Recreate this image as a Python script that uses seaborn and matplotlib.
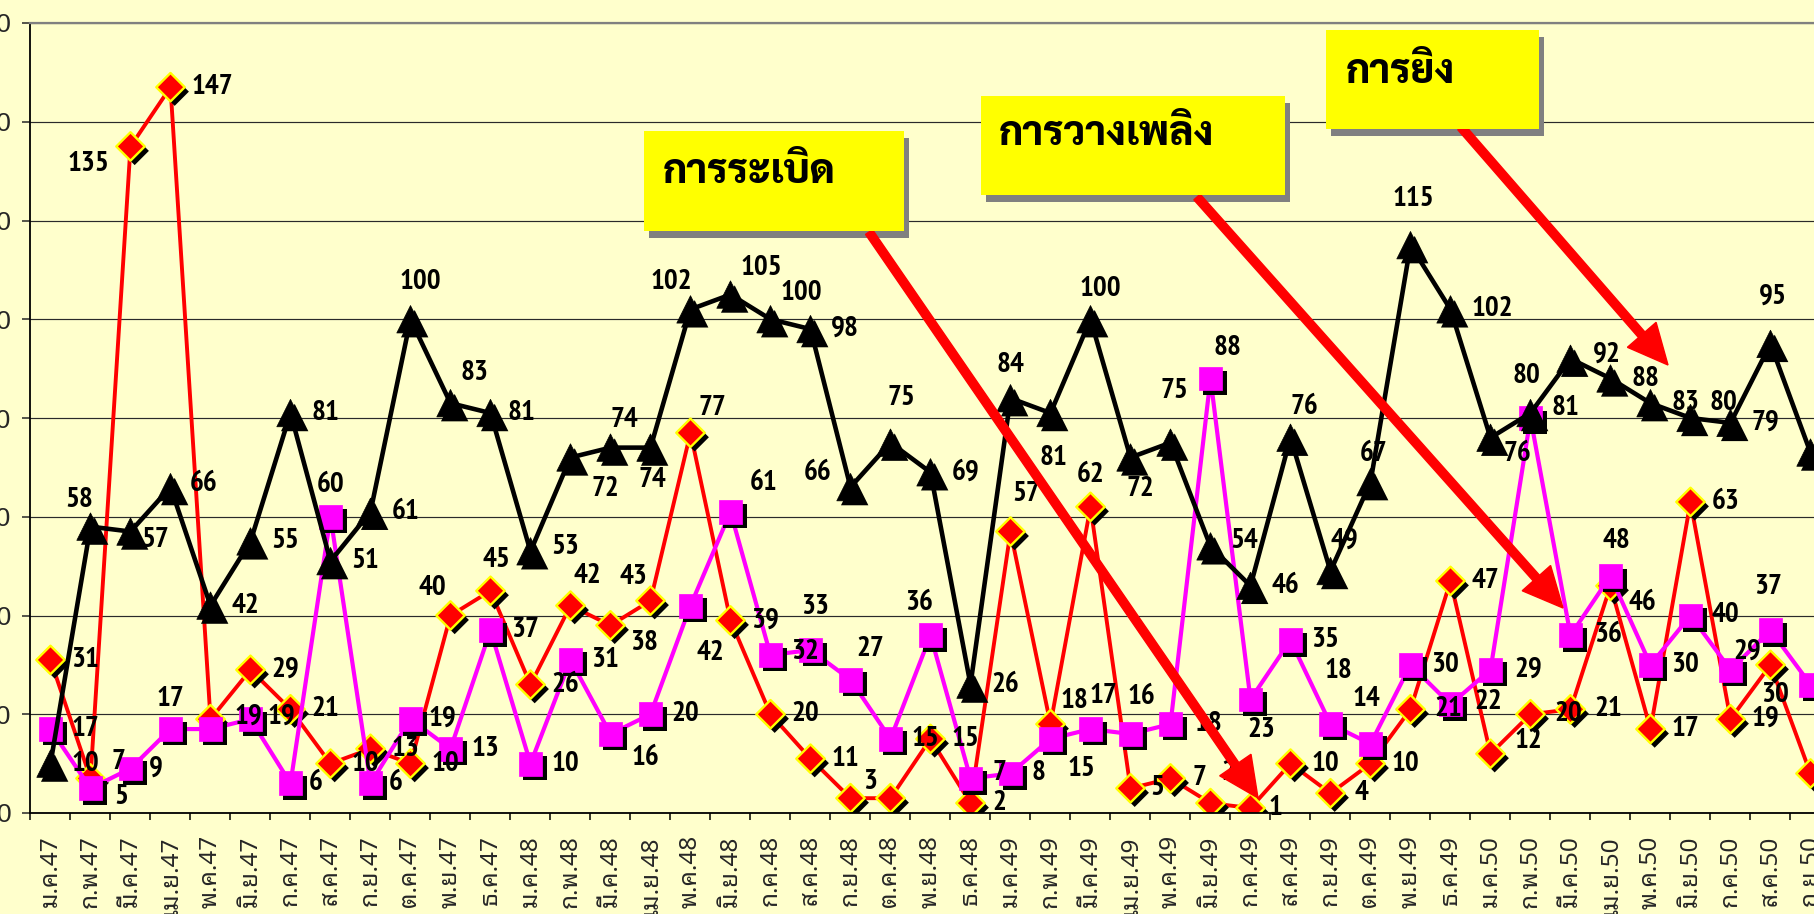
import matplotlib
matplotlib.use("Agg")
import matplotlib.pyplot as plt
import matplotlib.patheffects as pe
from matplotlib import font_manager as fm
from matplotlib.patches import Rectangle, FancyArrow
from matplotlib.transforms import IdentityTransform
from matplotlib.ticker import FixedLocator, MultipleLocator
import pandas as pd
import seaborn as sns

# ---- data: monthly incident counts, Jan 2547 - Sep 2550 ----
months = ["ม.ค.", "ก.พ.", "มี.ค.", "เม.ย.", "พ.ค.", "มิ.ย.",
          "ก.ค.", "ส.ค.", "ก.ย.", "ต.ค.", "พ.ย.", "ธ.ค."]
years = ["47", "48", "49", "50"]
month_labels = [m + y for y in years for m in months][:45]

shooting = [10, 58, 57, 66, 42, 55, 81, 51, 61, 100, 83, 81, 53, 72, 74, 74,
            102, 105, 100, 98, 66, 75, 69, 26, 84, 81, 100, 72, 75, 54, 46, 76,
            49, 67, 115, 102, 76, 81, 92, 88, 83, 80, 79, 95, 73]
arson = [17, 5, 9, 17, 17, 19, 6, 60, 6, 19, 13, 37, 10, 31, 16, 20,
         42, 61, 32, 33, 27, 15, 36, 7, 8, 15, 17, 16, 18, 88, 23, 35,
         18, 14, 30, 22, 29, 80, 36, 48, 30, 40, 29, 37, 26]
bombing = [31, 7, 135, 147, 19, 29, 21, 10, 13, 10, 40, 45, 26, 42, 38, 43,
           77, 39, 20, 11, 3, 3, 15, 2, 57, 18, 62, 5, 7, 2, 1, 10,
           4, 10, 21, 47, 12, 20, 21, 46, 17, 63, 19, 30, 8]

series_names = ["การยิง", "การวางเพลิง", "การระเบิด"]

# ---- fonts ----
installed = {f.name for f in fm.fontManager.ttflist}


def first_available(*cands):
    return next((c for c in cands if c in installed), "DejaVu Sans")


NUM_FONT = first_available("Liberation Sans Narrow", "Arial Narrow", "PT Sans Narrow",
                           "Roboto Condensed", "IBM Plex Sans Condensed",
                           "Fira Sans Condensed", "Barlow Semi Condensed")
THAI_FONT = first_available("Noto Sans Thai Looped", "Sarabun", "Noto Sans Thai")
THAI_BOLD = first_available("Sarabun", "Noto Sans Thai", "Noto Sans Thai Looped")
PLAIN_FONT = first_available("Liberation Sans", "Arimo", "DejaVu Sans")

BG = "#FFFFCC"
sns.set_style("ticks")
plt.rcParams["font.family"] = [NUM_FONT, "DejaVu Sans"]

df = pd.DataFrame({"idx": range(len(month_labels)),
                   series_names[0]: shooting,
                   series_names[1]: arson,
                   series_names[2]: bombing})

W, H = 1814, 914
fig = plt.figure(figsize=(W / 100, H / 100), dpi=100, facecolor=BG)
# 40 px per month, y axis at x=30.5 px, value 0 at y=813 px, 160 at y=23 px
ax = fig.add_axes([30.5 / W, 101 / H, 46 * 40 / W, 790 / H])
ax.set_facecolor(BG)

# ---- series: line + markers with drop shadow ----
shadow = [pe.SimplePatchShadow(offset=(3.0, -3.2), shadow_rgbFace="black", alpha=1.0), pe.Normal()]

style = {
    "การระเบิด": dict(color="#FF0000", lw=2.8, marker="D", s=210, edge="#FFFF00", elw=1.7, z=2.0),
    "การวางเพลิง": dict(color="#FF00FF", lw=3.0, marker="s", s=295, edge="#FF00FF", elw=0.5, z=2.2),
    "การยิง": dict(color="#000000", lw=3.3, marker="^", s=390, edge="#000000", elw=0.5, z=2.4),
}
for name in ["การระเบิด", "การวางเพลิง", "การยิง"]:
    st = style[name]
    sns.lineplot(data=df, x="idx", y=name, color=st["color"], linewidth=st["lw"],
                 ax=ax, zorder=st["z"], estimator=None)
    sns.scatterplot(data=df, x="idx", y=name, color=st["color"], marker=st["marker"],
                    s=st["s"], edgecolor=st["edge"], linewidth=st["elw"], ax=ax,
                    zorder=st["z"] + 0.05, legend=False, path_effects=shadow)

# ---- value labels: (dx, dy) offsets in points, default to the right ----
default_off = (25, 0)
label_offsets = {
    "การยิง": {1: (-8, 19), 2: (18, -6), 3: (24, 2), 9: (7, 27), 10: (17, 22), 11: (22, 0),
               12: (25, 3), 13: (25, -23), 14: (10, 20), 15: (1, -23), 16: (-14, 20),
               17: (22, 19), 18: (22, 19), 20: (-24, 10), 21: (8, 32), 24: (0, 24),
               25: (2, -32), 26: (7, 22), 27: (7, -23), 28: (3, 37), 29: (24, 4),
               31: (10, 22), 32: (10, 22), 33: (2, 20), 34: (2, 33), 35: (30, 0),
               36: (19, -12), 37: (25, 4), 38: (26, 3), 41: (24, 11), 43: (2, 34)},
    "การวางเพลิง": {1: (22, -6), 2: (18, 0), 3: (0, 22), 5: (22, 2), 6: (18, 0), 7: (0, 23),
                    8: (18, 0), 9: (23, 0), 14: (25, -17), 16: (14, -34), 17: (24, 21),
                    18: (25, 2), 19: (3, 31), 20: (14, 22), 22: (-8, 23), 23: (21, 4),
                    24: (20, 0), 25: (22, -22), 26: (9, 24), 27: (8, 27), 28: (27, 0),
                    29: (12, 22), 30: (8, -22), 32: (6, 38), 33: (-3, 32), 35: (27, 2),
                    36: (27, 0), 37: (-3, 30), 38: (27, 0), 39: (4, 25), 42: (12, 13),
                    43: (-2, 31)},
    "การระเบิด": {1: (20, 12), 2: (-30, -13), 3: (30, 0), 4: (27, 2), 10: (-13, 20),
                  11: (4, 22), 13: (12, 21), 14: (24, -13), 15: (-12, 17), 16: (16, 18),
                  20: (14, 12), 23: (21, 0), 24: (11, 27), 25: (17, 17), 26: (0, 23),
                  27: (19, 0), 28: (21, 0), 29: (13, 22), 30: (18, 0), 32: (22, 0),
                  34: (27, 0), 36: (27, 9), 37: (27, 0), 38: (27, 0), 39: (23, -12),
                  43: (3, -22)},
}
hidden_labels = {"การวางเพลิง": {4}, "การระเบิด": {21}, "การยิง": set()}

for name in series_names:
    for i, v in enumerate(df[name]):
        if i in hidden_labels[name]:
            continue
        dx, dy = label_offsets[name].get(i, default_off)
        ax.annotate(f"{v}", xy=(i, v), xytext=(dx, dy), textcoords="offset points",
                    ha="center", va="center", fontsize=21, fontweight="bold",
                    color="black", family=[NUM_FONT, "DejaVu Sans"], zorder=6)

# ---- axes ----
ax.set_xlim(-0.5, 45.5)
ax.set_ylim(0, 160)
ax.set_xlabel("")
ax.set_ylabel("")
ax.yaxis.set_major_locator(MultipleLocator(20))
ax.grid(axis="y", color="#2a2a2a", linewidth=0.85)
ax.grid(axis="x", visible=False)
ax.set_axisbelow(True)

ax.xaxis.set_major_locator(FixedLocator(range(len(month_labels))))
ax.set_xticklabels(month_labels, rotation=90, fontsize=17.5,
                   family=[THAI_FONT, PLAIN_FONT, "DejaVu Sans"])
ax.xaxis.set_minor_locator(FixedLocator([k - 0.5 for k in range(len(month_labels) + 2)]))
ax.tick_params(axis="x", which="major", length=0, pad=16)
ax.tick_params(axis="x", which="minor", length=5, width=1.1, color="black", direction="out")
ax.tick_params(axis="y", length=5.8, width=1.1, pad=8, labelsize=19, direction="out")
for lab in ax.get_yticklabels():
    lab.set_family([PLAIN_FONT, "DejaVu Sans"])

for side in ["left", "bottom"]:
    ax.spines[side].set_color("black")
    ax.spines[side].set_linewidth(1.3)
ax.spines["top"].set_visible(True)
ax.spines["top"].set_color("#808080")
ax.spines["top"].set_linewidth(1.6)
ax.spines["right"].set_visible(False)

# ---- callout boxes with shadows and red arrows (figure pixel coordinates) ----
px = IdentityTransform()
callouts = [
    # text, box (x, y_bottom, w, h), text (x, baseline), arrow (x0, y0, x1, y1)
    ("การระเบิด", (644, 683, 260, 100), (663, 731), (869, 682, 1258, 116)),
    ("การวางเพลิง", (981, 719, 304, 99), (999, 769), (1197, 717, 1563, 306)),
    ("การยิง", (1326, 785, 213, 99), (1346, 831), (1461, 787, 1668, 549)),
]
for text, (bx, by, bw, bh), (tx, ty), (x0, y0, x1, y1) in callouts:
    fig.add_artist(Rectangle((bx + 5, by - 7), bw, bh, transform=px,
                             facecolor="#808080", edgecolor="none", zorder=10))
    fig.add_artist(FancyArrow(x0, y0, x1 - x0, y1 - y0, width=8.5, head_width=38,
                              head_length=40, length_includes_head=True,
                              transform=px, color="#FF0000", zorder=11))
    fig.add_artist(Rectangle((bx, by), bw, bh, transform=px,
                             facecolor="#FFFF00", edgecolor="none", zorder=12))
    fig.text(tx, ty, text, transform=px, ha="left", va="baseline", fontsize=29,
             fontweight=800, color="black", family=[THAI_BOLD, "DejaVu Sans"], zorder=13)

fig.savefig("out.png", dpi=100, facecolor=BG)
